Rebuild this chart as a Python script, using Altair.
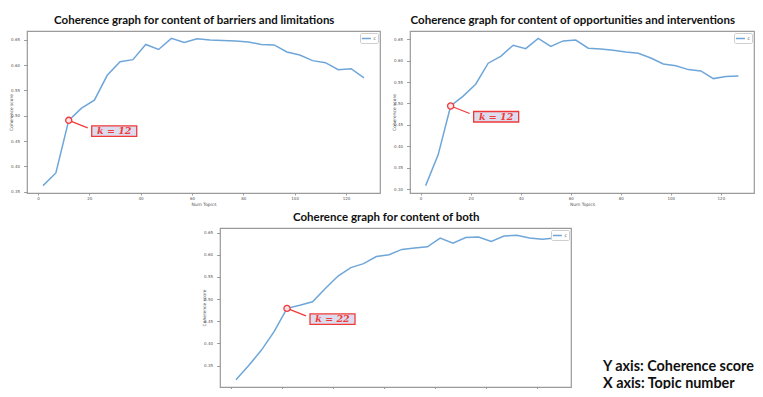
import altair as alt
import pandas as pd

topics = [2, 7, 12, 17, 22, 27, 32, 37, 42, 47, 52, 57, 62, 67, 72, 77, 82, 87, 92, 97, 102, 107, 112, 117, 122, 127]
coh_barriers = [0.362, 0.387, 0.491, 0.515, 0.531, 0.580, 0.607, 0.611, 0.641, 0.631, 0.653, 0.645, 0.652,
                0.650, 0.649, 0.648, 0.646, 0.641, 0.640, 0.626, 0.620, 0.609, 0.605, 0.591, 0.593, 0.575]
coh_opps = [0.308, 0.380, 0.494, 0.517, 0.545, 0.594, 0.610, 0.636, 0.628, 0.652, 0.633, 0.646, 0.648,
            0.629, 0.627, 0.624, 0.620, 0.617, 0.606, 0.592, 0.588, 0.579, 0.576, 0.558, 0.563, 0.564]
coh_both = [0.318, 0.350, 0.385, 0.427, 0.479, 0.486, 0.494, 0.524, 0.552, 0.571, 0.580, 0.596, 0.600,
            0.612, 0.615, 0.618, 0.6375, 0.626, 0.639, 0.640, 0.630, 0.642, 0.644, 0.638, 0.635, 0.638]
titles = ["Coherence graph for content of barriers and limitations",
          "Coherence graph for content of opportunities and interventions",
          "Coherence graph for content of both"]
best_k = [12, 12, 22]
legend_label = "c"
x_ticks = [0, 20, 40, 60, 80, 100, 120]
y_ticks = [0.30, 0.35, 0.40, 0.45, 0.50, 0.55, 0.60, 0.65]
note_lines = ["Y axis: Coherence score", "X axis: Topic number"]

LINE = "#6ea6d9"
RED = "#f03a3a"
TITLE_FONT = "Lato"


def panel(values, title, k, w, h, show_xtitle=True):
    df = pd.DataFrame({"topics": topics, "score": values, "series": legend_label})
    lo, hi = min(values), max(values)
    m = 0.05 * (hi - lo)
    ydom = [lo - m, hi + m]
    xm = 0.05 * (topics[-1] - topics[0])
    xdom = [topics[0] - xm, topics[-1] + xm]
    yvals = [v for v in y_ticks if ydom[0] <= v <= ydom[1]]
    xaxis_kw = dict(values=x_ticks, format="d")
    xaxis_kw["title"] = "Num Topics" if show_xtitle else ""
    x = alt.X("topics:Q", scale=alt.Scale(domain=xdom, nice=False, zero=False),
              axis=alt.Axis(**xaxis_kw))
    y = alt.Y("score:Q", scale=alt.Scale(domain=ydom, nice=False, zero=False),
              axis=alt.Axis(values=yvals, format=".2f", title="Coherence score"))
    line = alt.Chart(df).mark_line(strokeWidth=1.5).encode(
        x=x, y=y,
        color=alt.Color("series:N", scale=alt.Scale(range=[LINE]),
                        legend=alt.Legend(title=None, orient="top-right", offset=2, padding=1.5,
                                          strokeColor="#cfcfcf", fillColor="white", cornerRadius=1.5,
                                          symbolType="M-1.2,0H1.8", symbolSize=36, symbolStrokeWidth=1.5,
                                          labelFontSize=4.5, labelFont="DejaVu Sans", labelOffset=4,
                                          labelColor="#444")))
    kdf = df[df["topics"] == k].copy()
    kdf["label"] = f"k = {k}"
    base = alt.Chart(kdf).encode(x=x, y=y)
    rule = base.mark_rule(color=RED, strokeWidth=1.2, x2Offset=19, y2Offset=7.5).encode(
        x2="topics:Q", y2="score:Q")
    box = base.mark_rect(fill="#dcdcee", stroke=RED, strokeWidth=1.3,
                         xOffset=23, x2Offset=68, yOffset=5.5, y2Offset=16).encode(
        x2="topics:Q", y2="score:Q")
    circ = base.mark_point(shape="circle", size=38, filled=True, fill="#fbe3e6", stroke=RED,
                           strokeWidth=1.3, opacity=1)
    txt = base.mark_text(dx=45.5, dy=11, font="DejaVu Serif", fontStyle="italic", fontWeight="bold",
                         fontSize=9.5, color=RED, baseline="middle", align="center").encode(text="label:N")
    return alt.layer(line, rule, circ, box, txt).properties(
        width=w, height=h,
        title=alt.TitleParams(title, font=TITLE_FONT, fontSize=11.5, fontWeight="bold", color="#111111",
                              offset=5, frame="bounds"))


p1 = panel(coh_barriers, titles[0], best_k[0], 353, 162)
p2 = panel(coh_opps, titles[1], best_k[1], 344, 162)
p3 = panel(coh_both, titles[2], best_k[2], 351, 159, show_xtitle=False)

spacer = alt.Chart(pd.DataFrame({"a": [0]})).mark_point(opacity=0).encode(
    x=alt.value(0), y=alt.value(0)).properties(width=161, height=10,
                                              view=alt.ViewBackground(stroke="transparent"))

note_df = pd.DataFrame({"t": note_lines, "i": [0, 1]})
note = alt.Chart(note_df).mark_text(align="left", baseline="middle", font=TITLE_FONT, fontWeight="bold",
                                    fontSize=14.4, color="#111111").encode(
    x=alt.value(0),
    y=alt.Y("i:O", axis=None, scale=alt.Scale(range=[139, 156], padding=0)),
    text="t:N").properties(width=150, height=159, view=alt.ViewBackground(stroke="transparent"))

top = alt.hconcat(p1, p2, spacing=30, bounds="flush").resolve_scale(color="independent").resolve_legend(color="independent")
bottom = alt.hconcat(spacer, p3, note, spacing=32, bounds="flush").resolve_scale(color="independent").resolve_legend(color="independent")

chart = alt.vconcat(top, bottom, spacing=3).resolve_scale(color="independent").resolve_legend(
    color="independent").properties(
    autosize=alt.AutoSizeParams(type="none"),
    padding={"left": 19, "top": 23, "right": 728, "bottom": 358},
    background="white"
).configure_axis(
    labelFont="DejaVu Sans", labelFontSize=4, labelColor="#555555",
    titleFont="DejaVu Sans", titleFontSize=4.4, titleColor="#555555", titleFontWeight="normal",
    tickColor="#888888", tickWidth=0.8, domain=False, grid=False
).configure_axisX(
    tickSize=2, labelPadding=1, titlePadding=2.5
).configure_axisY(
    tickSize=3.5, labelPadding=4, titleX=-13.5
).configure_view(stroke="#9a9a9a", strokeWidth=1.2)

chart.save("out.html", embed_options={"renderer": "svg", "actions": False})
